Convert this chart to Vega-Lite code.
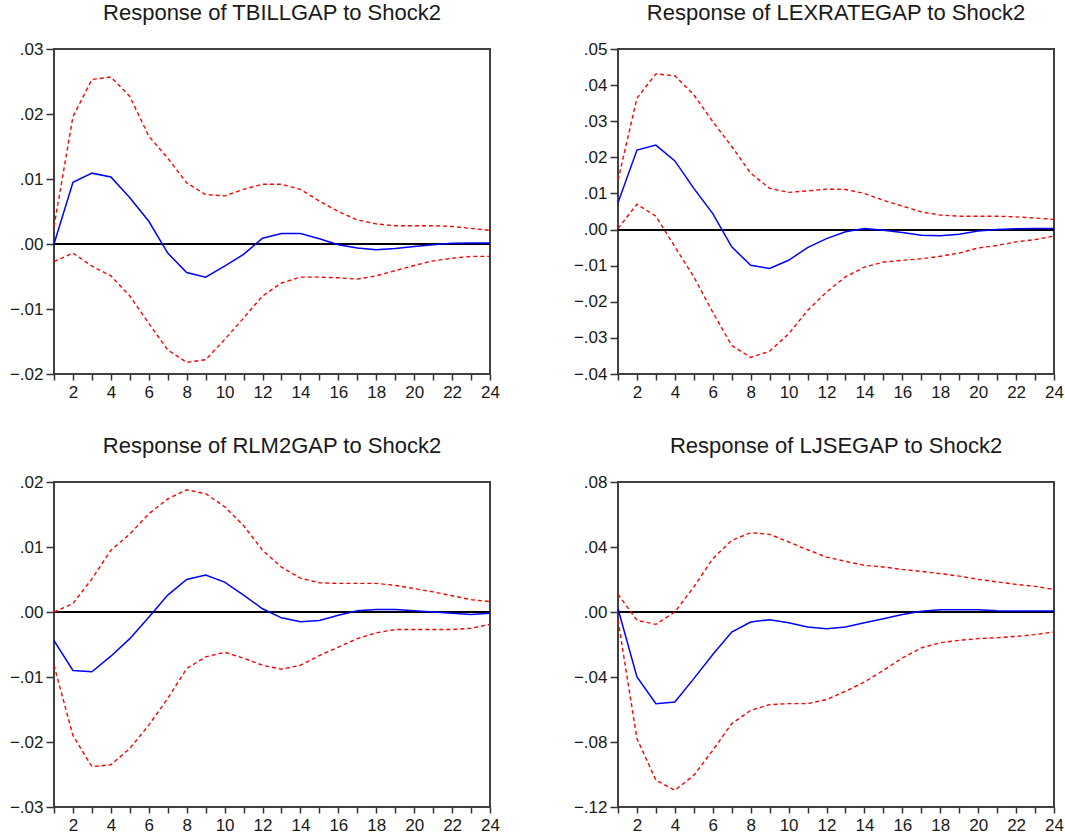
{
  "$schema": "https://vega.github.io/schema/vega-lite/v6.json",
  "background": "white",
  "padding": {"left": 8, "top": 1, "right": 5, "bottom": 3},
  "bounds": "flush",
  "spacing": {"row": 108, "column": 128},
  "columns": 2,
  "datasets": {
    "tbill": [
      {"step": 1, "response": 0.0, "upper": 0.0027, "lower": -0.0027},
      {"step": 2, "response": 0.0095, "upper": 0.0196, "lower": -0.0014},
      {"step": 3, "response": 0.0109, "upper": 0.0253, "lower": -0.0034},
      {"step": 4, "response": 0.0103, "upper": 0.0257, "lower": -0.0049},
      {"step": 5, "response": 0.0071, "upper": 0.0227, "lower": -0.008},
      {"step": 6, "response": 0.0035, "upper": 0.0166, "lower": -0.0122},
      {"step": 7, "response": -0.0014, "upper": 0.0132, "lower": -0.0163},
      {"step": 8, "response": -0.0044, "upper": 0.0094, "lower": -0.0182},
      {"step": 9, "response": -0.0051, "upper": 0.0076, "lower": -0.0178},
      {"step": 10, "response": -0.0034, "upper": 0.0074, "lower": -0.0147},
      {"step": 11, "response": -0.0016, "upper": 0.0084, "lower": -0.0114},
      {"step": 12, "response": 0.0009, "upper": 0.0092, "lower": -0.008},
      {"step": 13, "response": 0.0016, "upper": 0.0092, "lower": -0.006},
      {"step": 14, "response": 0.0016, "upper": 0.0084, "lower": -0.0051},
      {"step": 15, "response": 0.0008, "upper": 0.0066, "lower": -0.0051},
      {"step": 16, "response": -0.0001, "upper": 0.005, "lower": -0.0052},
      {"step": 17, "response": -0.0006, "upper": 0.0037, "lower": -0.0054},
      {"step": 18, "response": -0.0009, "upper": 0.0031, "lower": -0.0049},
      {"step": 19, "response": -0.0007, "upper": 0.0028, "lower": -0.0041},
      {"step": 20, "response": -0.0004, "upper": 0.0028, "lower": -0.0033},
      {"step": 21, "response": -0.0001, "upper": 0.0028, "lower": -0.0026},
      {"step": 22, "response": 0.0001, "upper": 0.0027, "lower": -0.0022},
      {"step": 23, "response": 0.00015, "upper": 0.0024, "lower": -0.0019},
      {"step": 24, "response": 0.00015, "upper": 0.0021, "lower": -0.0019}
    ],
    "lexrate": [
      {"step": 1, "response": 0.0074, "upper": 0.0137, "lower": 0.0003},
      {"step": 2, "response": 0.022, "upper": 0.0364, "lower": 0.007},
      {"step": 3, "response": 0.0234, "upper": 0.0431, "lower": 0.0037},
      {"step": 4, "response": 0.019, "upper": 0.0426, "lower": -0.0048},
      {"step": 5, "response": 0.0114, "upper": 0.0373, "lower": -0.0131},
      {"step": 6, "response": 0.0044, "upper": 0.0299, "lower": -0.0229},
      {"step": 7, "response": -0.0048, "upper": 0.023, "lower": -0.0321},
      {"step": 8, "response": -0.0099, "upper": 0.0156, "lower": -0.0354},
      {"step": 9, "response": -0.0108, "upper": 0.0114, "lower": -0.0337},
      {"step": 10, "response": -0.0085, "upper": 0.0103, "lower": -0.0289},
      {"step": 11, "response": -0.005, "upper": 0.0107, "lower": -0.0224},
      {"step": 12, "response": -0.0025, "upper": 0.0112, "lower": -0.0173},
      {"step": 13, "response": -0.0006, "upper": 0.0111, "lower": -0.0131},
      {"step": 14, "response": 0.0003, "upper": 0.01, "lower": -0.0104},
      {"step": 15, "response": -0.0002, "upper": 0.0081, "lower": -0.009},
      {"step": 16, "response": -0.0008, "upper": 0.0065, "lower": -0.0085},
      {"step": 17, "response": -0.0016, "upper": 0.0049, "lower": -0.0081},
      {"step": 18, "response": -0.0017, "upper": 0.004, "lower": -0.0074},
      {"step": 19, "response": -0.0013, "upper": 0.0037, "lower": -0.0065},
      {"step": 20, "response": -0.0004, "upper": 0.0037, "lower": -0.0051},
      {"step": 21, "response": 0.0, "upper": 0.0037, "lower": -0.0044},
      {"step": 22, "response": 0.0002, "upper": 0.0035, "lower": -0.0034},
      {"step": 23, "response": 0.0003, "upper": 0.0032, "lower": -0.0028},
      {"step": 24, "response": 0.0003, "upper": 0.0028, "lower": -0.0018}
    ],
    "rlm2": [
      {"step": 1, "response": -0.0044, "upper": 0.0, "lower": -0.0082},
      {"step": 2, "response": -0.009, "upper": 0.0013, "lower": -0.019},
      {"step": 3, "response": -0.0092, "upper": 0.0051, "lower": -0.0238},
      {"step": 4, "response": -0.0068, "upper": 0.0095, "lower": -0.0235},
      {"step": 5, "response": -0.0041, "upper": 0.012, "lower": -0.021},
      {"step": 6, "response": -0.0008, "upper": 0.0151, "lower": -0.0174},
      {"step": 7, "response": 0.0026, "upper": 0.0174, "lower": -0.0133},
      {"step": 8, "response": 0.005, "upper": 0.0188, "lower": -0.0087},
      {"step": 9, "response": 0.0057, "upper": 0.0182, "lower": -0.0069},
      {"step": 10, "response": 0.0046, "upper": 0.0162, "lower": -0.0062},
      {"step": 11, "response": 0.0026, "upper": 0.0133, "lower": -0.0071},
      {"step": 12, "response": 0.0005, "upper": 0.0095, "lower": -0.0082},
      {"step": 13, "response": -0.0009, "upper": 0.0069, "lower": -0.0088},
      {"step": 14, "response": -0.0015, "upper": 0.0052, "lower": -0.0082},
      {"step": 15, "response": -0.0013, "upper": 0.0045, "lower": -0.0067},
      {"step": 16, "response": -0.0005, "upper": 0.0044, "lower": -0.0054},
      {"step": 17, "response": 0.0002, "upper": 0.0044, "lower": -0.0041},
      {"step": 18, "response": 0.0004, "upper": 0.0044, "lower": -0.0032},
      {"step": 19, "response": 0.0004, "upper": 0.0041, "lower": -0.0027},
      {"step": 20, "response": 0.0002, "upper": 0.0036, "lower": -0.0027},
      {"step": 21, "response": 0.0, "upper": 0.0031, "lower": -0.0027},
      {"step": 22, "response": -0.0002, "upper": 0.0025, "lower": -0.0027},
      {"step": 23, "response": -0.0004, "upper": 0.0019, "lower": -0.0025},
      {"step": 24, "response": -0.0002, "upper": 0.0016, "lower": -0.0019}
    ],
    "ljse": [
      {"step": 1, "response": 0.002, "upper": 0.0109, "lower": -0.0051},
      {"step": 2, "response": -0.04, "upper": -0.0051, "lower": -0.0779},
      {"step": 3, "response": -0.0564, "upper": -0.0076, "lower": -0.1035},
      {"step": 4, "response": -0.0554, "upper": 0.0, "lower": -0.1097},
      {"step": 5, "response": -0.041, "upper": 0.0154, "lower": -0.1005},
      {"step": 6, "response": -0.0262, "upper": 0.0328, "lower": -0.0851},
      {"step": 7, "response": -0.0123, "upper": 0.0441, "lower": -0.0687},
      {"step": 8, "response": -0.0062, "upper": 0.0488, "lower": -0.0605},
      {"step": 9, "response": -0.0047, "upper": 0.0478, "lower": -0.057},
      {"step": 10, "response": -0.0066, "upper": 0.0431, "lower": -0.0564},
      {"step": 11, "response": -0.0092, "upper": 0.0383, "lower": -0.0564},
      {"step": 12, "response": -0.0103, "upper": 0.0338, "lower": -0.0539},
      {"step": 13, "response": -0.0092, "upper": 0.0312, "lower": -0.0488},
      {"step": 14, "response": -0.0066, "upper": 0.0287, "lower": -0.0431},
      {"step": 15, "response": -0.0041, "upper": 0.0277, "lower": -0.0359},
      {"step": 16, "response": -0.0016, "upper": 0.0262, "lower": -0.0283},
      {"step": 17, "response": 0.0004, "upper": 0.025, "lower": -0.0221},
      {"step": 18, "response": 0.0014, "upper": 0.0236, "lower": -0.0189},
      {"step": 19, "response": 0.0014, "upper": 0.0221, "lower": -0.0174},
      {"step": 20, "response": 0.0014, "upper": 0.0201, "lower": -0.0164},
      {"step": 21, "response": 0.0008, "upper": 0.0185, "lower": -0.0158},
      {"step": 22, "response": 0.0006, "upper": 0.017, "lower": -0.015},
      {"step": 23, "response": 0.0006, "upper": 0.0158, "lower": -0.0139},
      {"step": 24, "response": 0.0006, "upper": 0.0139, "lower": -0.0123}
    ]
  },
  "concat": [
    {
      "title": "Response of TBILLGAP to Shock2",
      "width": 436, "height": 325,
      "data": {"name": "tbill"},
      "encoding": {
        "x": {"field": "step", "type": "quantitative", "scale": {"domain": [1, 24], "nice": false, "zero": false}, "axis": {"title": null, "values": [1,2,3,4,5,6,7,8,9,10,11,12,13,14,15,16,17,18,19,20,21,22,23,24], "labelExpr": "datum.value % 2 == 0 ? datum.label : ''", "labelOverlap": false}}
      },
      "layer": [
        {"mark": {"type": "rule", "color": "black", "strokeWidth": 1.2}, "encoding": {"y": {"datum": 0, "type": "quantitative", "scale": {"domain": [-0.02, 0.03], "nice": false, "zero": false}, "axis": {"title": null, "values": [-0.02, -0.01, 0, 0.01, 0.02, 0.03], "labelOverlap": false, "labelExpr": "replace(format(datum.value, '.2f'), '0.', '.')"}}, "x": null}},
        {"mark": {"type": "line", "color": "#ff0000", "strokeWidth": 1.4, "strokeDash": [4, 3]}, "encoding": {"y": {"field": "upper", "type": "quantitative", "axis": {"title": null, "values": [-0.02, -0.01, 0, 0.01, 0.02, 0.03], "labelOverlap": false, "labelExpr": "replace(format(datum.value, '.2f'), '0.', '.')"}}}},
        {"mark": {"type": "line", "color": "#ff0000", "strokeWidth": 1.4, "strokeDash": [4, 3]}, "encoding": {"y": {"field": "lower", "type": "quantitative", "axis": {"title": null, "values": [-0.02, -0.01, 0, 0.01, 0.02, 0.03], "labelOverlap": false, "labelExpr": "replace(format(datum.value, '.2f'), '0.', '.')"}}}},
        {"mark": {"type": "line", "color": "#0000ff", "strokeWidth": 1.5}, "encoding": {"y": {"field": "response", "type": "quantitative", "axis": {"title": null, "values": [-0.02, -0.01, 0, 0.01, 0.02, 0.03], "labelOverlap": false, "labelExpr": "replace(format(datum.value, '.2f'), '0.', '.')"}}}}
      ]
    },
    {
      "title": "Response of LEXRATEGAP to Shock2",
      "width": 436, "height": 325,
      "data": {"name": "lexrate"},
      "encoding": {
        "x": {"field": "step", "type": "quantitative", "scale": {"domain": [1, 24], "nice": false, "zero": false}, "axis": {"title": null, "values": [1,2,3,4,5,6,7,8,9,10,11,12,13,14,15,16,17,18,19,20,21,22,23,24], "labelExpr": "datum.value % 2 == 0 ? datum.label : ''", "labelOverlap": false}}
      },
      "layer": [
        {"mark": {"type": "rule", "color": "black", "strokeWidth": 1.2}, "encoding": {"y": {"datum": 0, "type": "quantitative", "scale": {"domain": [-0.04, 0.05], "nice": false, "zero": false}, "axis": {"title": null, "values": [-0.04, -0.03, -0.02, -0.01, 0, 0.01, 0.02, 0.03, 0.04, 0.05], "labelOverlap": false, "labelExpr": "replace(format(datum.value, '.2f'), '0.', '.')"}}, "x": null}},
        {"mark": {"type": "line", "color": "#ff0000", "strokeWidth": 1.4, "strokeDash": [4, 3]}, "encoding": {"y": {"field": "upper", "type": "quantitative", "axis": {"title": null, "values": [-0.04, -0.03, -0.02, -0.01, 0, 0.01, 0.02, 0.03, 0.04, 0.05], "labelOverlap": false, "labelExpr": "replace(format(datum.value, '.2f'), '0.', '.')"}}}},
        {"mark": {"type": "line", "color": "#ff0000", "strokeWidth": 1.4, "strokeDash": [4, 3]}, "encoding": {"y": {"field": "lower", "type": "quantitative", "axis": {"title": null, "values": [-0.04, -0.03, -0.02, -0.01, 0, 0.01, 0.02, 0.03, 0.04, 0.05], "labelOverlap": false, "labelExpr": "replace(format(datum.value, '.2f'), '0.', '.')"}}}},
        {"mark": {"type": "line", "color": "#0000ff", "strokeWidth": 1.5}, "encoding": {"y": {"field": "response", "type": "quantitative", "axis": {"title": null, "values": [-0.04, -0.03, -0.02, -0.01, 0, 0.01, 0.02, 0.03, 0.04, 0.05], "labelOverlap": false, "labelExpr": "replace(format(datum.value, '.2f'), '0.', '.')"}}}}
      ]
    },
    {
      "title": "Response of RLM2GAP to Shock2",
      "width": 436, "height": 325,
      "data": {"name": "rlm2"},
      "encoding": {
        "x": {"field": "step", "type": "quantitative", "scale": {"domain": [1, 24], "nice": false, "zero": false}, "axis": {"title": null, "values": [1,2,3,4,5,6,7,8,9,10,11,12,13,14,15,16,17,18,19,20,21,22,23,24], "labelExpr": "datum.value % 2 == 0 ? datum.label : ''", "labelOverlap": false}}
      },
      "layer": [
        {"mark": {"type": "rule", "color": "black", "strokeWidth": 1.2}, "encoding": {"y": {"datum": 0, "type": "quantitative", "scale": {"domain": [-0.03, 0.02], "nice": false, "zero": false}, "axis": {"title": null, "values": [-0.03, -0.02, -0.01, 0, 0.01, 0.02], "labelOverlap": false, "labelExpr": "replace(format(datum.value, '.2f'), '0.', '.')"}}, "x": null}},
        {"mark": {"type": "line", "color": "#ff0000", "strokeWidth": 1.4, "strokeDash": [4, 3]}, "encoding": {"y": {"field": "upper", "type": "quantitative", "axis": {"title": null, "values": [-0.03, -0.02, -0.01, 0, 0.01, 0.02], "labelOverlap": false, "labelExpr": "replace(format(datum.value, '.2f'), '0.', '.')"}}}},
        {"mark": {"type": "line", "color": "#ff0000", "strokeWidth": 1.4, "strokeDash": [4, 3]}, "encoding": {"y": {"field": "lower", "type": "quantitative", "axis": {"title": null, "values": [-0.03, -0.02, -0.01, 0, 0.01, 0.02], "labelOverlap": false, "labelExpr": "replace(format(datum.value, '.2f'), '0.', '.')"}}}},
        {"mark": {"type": "line", "color": "#0000ff", "strokeWidth": 1.5}, "encoding": {"y": {"field": "response", "type": "quantitative", "axis": {"title": null, "values": [-0.03, -0.02, -0.01, 0, 0.01, 0.02], "labelOverlap": false, "labelExpr": "replace(format(datum.value, '.2f'), '0.', '.')"}}}}
      ]
    },
    {
      "title": "Response of LJSEGAP to Shock2",
      "width": 436, "height": 325,
      "data": {"name": "ljse"},
      "encoding": {
        "x": {"field": "step", "type": "quantitative", "scale": {"domain": [1, 24], "nice": false, "zero": false}, "axis": {"title": null, "values": [1,2,3,4,5,6,7,8,9,10,11,12,13,14,15,16,17,18,19,20,21,22,23,24], "labelExpr": "datum.value % 2 == 0 ? datum.label : ''", "labelOverlap": false}}
      },
      "layer": [
        {"mark": {"type": "rule", "color": "black", "strokeWidth": 1.2}, "encoding": {"y": {"datum": 0, "type": "quantitative", "scale": {"domain": [-0.12, 0.08], "nice": false, "zero": false}, "axis": {"title": null, "values": [-0.12, -0.08, -0.04, 0, 0.04, 0.08], "labelOverlap": false, "labelExpr": "replace(format(datum.value, '.2f'), '0.', '.')"}}, "x": null}},
        {"mark": {"type": "line", "color": "#ff0000", "strokeWidth": 1.4, "strokeDash": [4, 3]}, "encoding": {"y": {"field": "upper", "type": "quantitative", "axis": {"title": null, "values": [-0.12, -0.08, -0.04, 0, 0.04, 0.08], "labelOverlap": false, "labelExpr": "replace(format(datum.value, '.2f'), '0.', '.')"}}}},
        {"mark": {"type": "line", "color": "#ff0000", "strokeWidth": 1.4, "strokeDash": [4, 3]}, "encoding": {"y": {"field": "lower", "type": "quantitative", "axis": {"title": null, "values": [-0.12, -0.08, -0.04, 0, 0.04, 0.08], "labelOverlap": false, "labelExpr": "replace(format(datum.value, '.2f'), '0.', '.')"}}}},
        {"mark": {"type": "line", "color": "#0000ff", "strokeWidth": 1.5}, "encoding": {"y": {"field": "response", "type": "quantitative", "axis": {"title": null, "values": [-0.12, -0.08, -0.04, 0, 0.04, 0.08], "labelOverlap": false, "labelExpr": "replace(format(datum.value, '.2f'), '0.', '.')"}}}}
      ]
    }
  ],
  "config": {
    "view": {"stroke": "#404040", "strokeWidth": 2},
    "axis": {
      "grid": false,
      "domain": false,
      "tickColor": "#333333",
      "tickWidth": 1.5,
      "labelFont": "Liberation Sans",
      "labelFontSize": 17,
      "labelColor": "#1a1a1a",
      "labelFlush": false,
      "labelOverlap": false
    },
    "axisX": {"tickSize": 6, "labelPadding": 4},
    "axisY": {"tickSize": 8, "labelPadding": 3},
    "title": {
      "font": "Liberation Sans",
      "fontSize": 22,
      "fontWeight": "normal",
      "color": "#1a1a1a",
      "anchor": "middle",
      "baseline": "alphabetic",
      "offset": 15
    }
  }
}
